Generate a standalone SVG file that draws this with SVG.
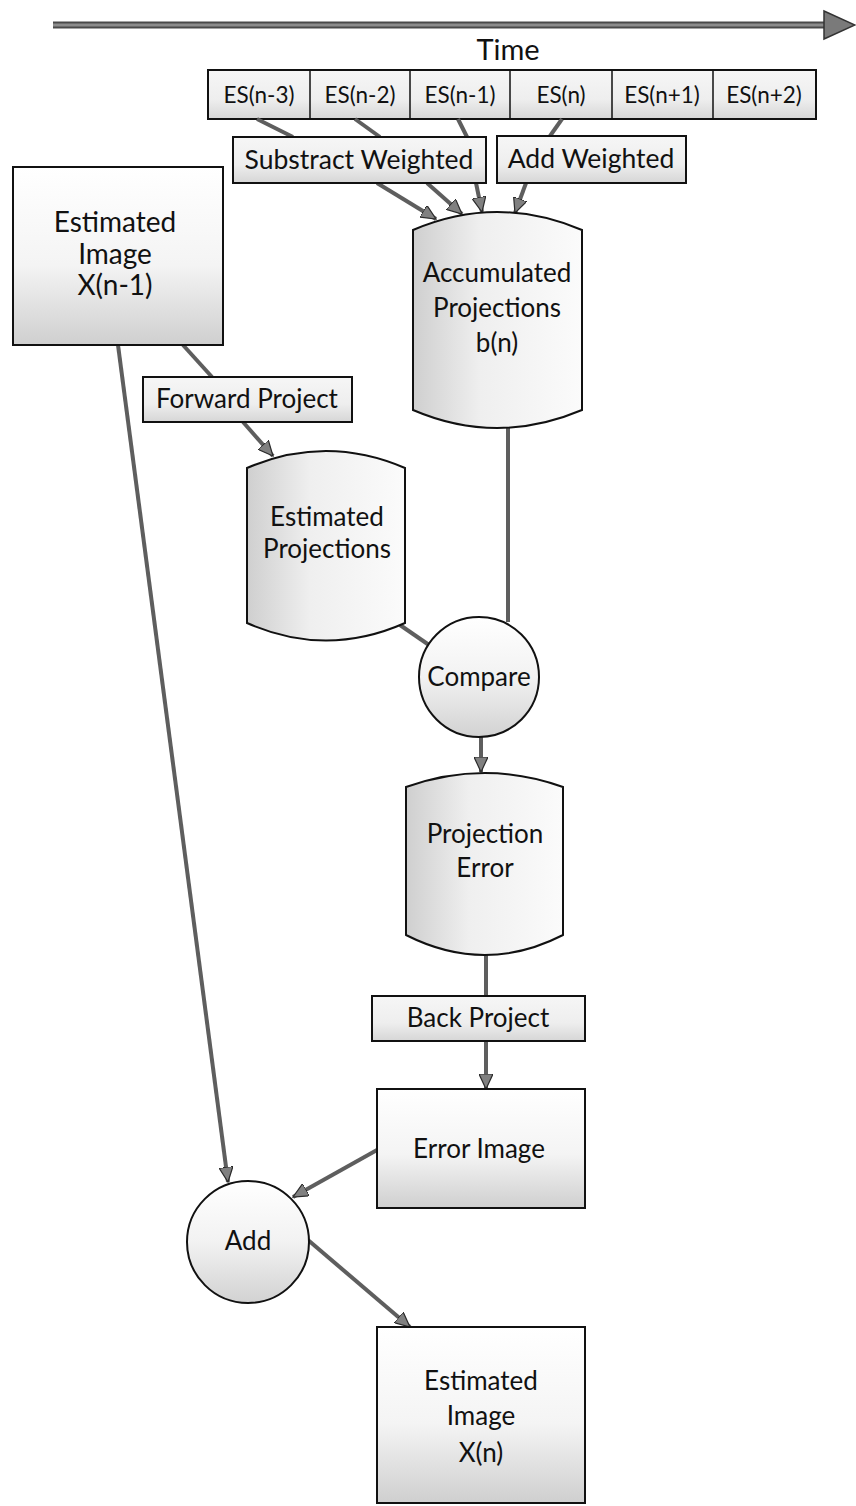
<svg xmlns="http://www.w3.org/2000/svg" width="856" height="1506" viewBox="0 0 856 1506">
  <defs>
    <linearGradient id="gBox" x1="0" y1="0" x2="0" y2="1">
      <stop offset="0" stop-color="#ffffff"/>
      <stop offset="0.55" stop-color="#f4f4f4"/>
      <stop offset="1" stop-color="#cfcfcf"/>
    </linearGradient>
    <linearGradient id="gLabel" x1="0" y1="0" x2="0" y2="1">
      <stop offset="0" stop-color="#f6f6f6"/>
      <stop offset="0.6" stop-color="#eeeeee"/>
      <stop offset="1" stop-color="#d6d6d6"/>
    </linearGradient>
    <linearGradient id="gCyl" x1="0" y1="0" x2="1" y2="0">
      <stop offset="0" stop-color="#cfcfcf"/>
      <stop offset="0.4" stop-color="#efefef"/>
      <stop offset="1" stop-color="#fbfbfb"/>
    </linearGradient>
    <linearGradient id="gCirc" x1="0" y1="0" x2="0" y2="1">
      <stop offset="0" stop-color="#ffffff"/>
      <stop offset="0.5" stop-color="#f2f2f2"/>
      <stop offset="1" stop-color="#d2d2d2"/>
    </linearGradient>
    <marker id="ah" markerUnits="userSpaceOnUse" markerWidth="16" markerHeight="14" refX="15" refY="7" orient="auto">
      <path d="M0,0 L15,7 L0,14 z" fill="#808080" stroke="#2a2a2a" stroke-width="1.2"/>
    </marker>
  </defs>
  <style>
    .shape { stroke: #111; stroke-width: 2; }
    .t { font-family: Lato, "Open Sans", sans-serif; fill: #111; text-anchor: middle; }
    .conn line { stroke: #5e5e5e; stroke-width: 4; }
    .conn .arr { marker-end: url(#ah); }
  </style>

  <!-- Time axis -->
  <g id="time-axis">
    <line x1="53" y1="25" x2="826" y2="25" stroke="#4a4a4a" stroke-width="7"/>
    <line x1="53" y1="25" x2="826" y2="25" stroke="#8c8c8c" stroke-width="3"/>
    <polygon points="824,11 855,25 824,39" fill="#7a7a7a" stroke="#333" stroke-width="1.5"/>
    <text class="t" x="508" y="60" font-size="29">Time</text>
  </g>

  <!-- ES row -->
  <g id="es-row">
    <rect class="shape" x="208" y="70" width="608" height="49" fill="url(#gLabel)"/>
    <line x1="310" y1="70" x2="310" y2="119" stroke="#111" stroke-width="1.5"/>
    <line x1="410" y1="70" x2="410" y2="119" stroke="#111" stroke-width="1.5"/>
    <line x1="510" y1="70" x2="510" y2="119" stroke="#111" stroke-width="1.5"/>
    <line x1="612" y1="70" x2="612" y2="119" stroke="#111" stroke-width="1.5"/>
    <line x1="713" y1="70" x2="713" y2="119" stroke="#111" stroke-width="1.5"/>
    <text class="t" x="259" y="103" font-size="22.5">ES(n-3)</text>
    <text class="t" x="360" y="103" font-size="22.5">ES(n-2)</text>
    <text class="t" x="460" y="103" font-size="22.5">ES(n-1)</text>
    <text class="t" x="561" y="103" font-size="22.5">ES(n)</text>
    <text class="t" x="662" y="103" font-size="22.5">ES(n+1)</text>
    <text class="t" x="764" y="103" font-size="22.5">ES(n+2)</text>
  </g>

  <!-- Connectors -->
  <g id="connectors" class="conn">
    <line x1="257" y1="119" x2="293" y2="137"/>
    <line x1="355" y1="119" x2="380" y2="137"/>
    <line x1="458" y1="119" x2="467" y2="137"/>
    <line x1="562" y1="119" x2="550" y2="136"/>
    <line class="arr" x1="377" y1="183" x2="436" y2="219"/>
    <line class="arr" x1="427" y1="183" x2="462" y2="214"/>
    <line class="arr" x1="476" y1="183" x2="482" y2="212"/>
    <line class="arr" x1="526" y1="183" x2="515" y2="213"/>
    <line x1="183" y1="345" x2="212" y2="377"/>
    <line class="arr" x1="243" y1="422" x2="273" y2="456"/>
    <line class="arr" x1="118" y1="345" x2="228" y2="1182"/>
    <line x1="508" y1="427" x2="508" y2="622"/>
    <line x1="400" y1="625" x2="429" y2="645"/>
    <line class="arr" x1="481" y1="737" x2="481" y2="772"/>
    <line x1="486" y1="955" x2="486" y2="996"/>
    <line class="arr" x1="486" y1="1041" x2="486" y2="1089"/>
    <line class="arr" x1="377" y1="1150" x2="293" y2="1197"/>
    <line class="arr" x1="308" y1="1240" x2="410" y2="1327"/>
  </g>

  <!-- Labels on connectors -->
  <g id="substract-weighted">
    <rect class="shape" x="233" y="137" width="253" height="46" fill="url(#gLabel)"/>
    <text class="t" x="359" y="169" font-size="26.5">Substract Weighted</text>
  </g>
  <g id="add-weighted">
    <rect class="shape" x="497" y="136" width="189" height="47" fill="url(#gLabel)"/>
    <text class="t" x="591" y="168" font-size="26.5">Add Weighted</text>
  </g>

  <g id="estimated-image-prev">
    <rect class="shape" x="13" y="167" width="210" height="178" fill="url(#gBox)"/>
    <text class="t" x="115" y="232" font-size="28">Estimated</text>
    <text class="t" x="115" y="264" font-size="28">Image</text>
    <text class="t" x="115" y="295" font-size="28">X(n-1)</text>
  </g>

  <g id="accumulated-projections">
    <path class="shape" d="M413,230 Q497,194 582,230 L582,410 Q497,446 413,410 Z" fill="url(#gCyl)"/>
    <text class="t" x="497" y="282" font-size="26">Accumulated</text>
    <text class="t" x="497" y="317" font-size="26">Projections</text>
    <text class="t" x="497" y="352" font-size="26">b(n)</text>
  </g>

  <g id="forward-project">
    <rect class="shape" x="143" y="377" width="209" height="45" fill="url(#gLabel)"/>
    <text class="t" x="247" y="408" font-size="26">Forward Project</text>
  </g>

  <g id="estimated-projections">
    <path class="shape" d="M247,468 Q326,434 405,468 L405,623 Q326,658 247,623 Z" fill="url(#gCyl)"/>
    <text class="t" x="327" y="526" font-size="26">Estimated</text>
    <text class="t" x="327" y="558" font-size="26">Projections</text>
  </g>

  <g id="compare">
    <circle class="shape" cx="479" cy="677" r="60" fill="url(#gCirc)"/>
    <text class="t" x="479" y="686" font-size="26">Compare</text>
  </g>

  <g id="projection-error">
    <path class="shape" d="M406,787 Q485,759 563,787 L563,935 Q485,975 406,935 Z" fill="url(#gCyl)"/>
    <text class="t" x="485" y="843" font-size="26">Projection</text>
    <text class="t" x="485" y="877" font-size="26">Error</text>
  </g>

  <g id="back-project">
    <rect class="shape" x="372" y="996" width="213" height="45" fill="url(#gLabel)"/>
    <text class="t" x="478" y="1027" font-size="26">Back Project</text>
  </g>

  <g id="error-image">
    <rect class="shape" x="377" y="1089" width="208" height="119" fill="url(#gBox)"/>
    <text class="t" x="479" y="1158" font-size="26">Error Image</text>
  </g>

  <g id="add">
    <circle class="shape" cx="248" cy="1242" r="61" fill="url(#gCirc)"/>
    <text class="t" x="248" y="1250" font-size="26">Add</text>
  </g>

  <g id="estimated-image-new">
    <rect class="shape" x="377" y="1327" width="208" height="176" fill="url(#gBox)"/>
    <text class="t" x="481" y="1390" font-size="26">Estimated</text>
    <text class="t" x="481" y="1425" font-size="26">Image</text>
    <text class="t" x="481" y="1462" font-size="26">X(n)</text>
  </g>
</svg>
